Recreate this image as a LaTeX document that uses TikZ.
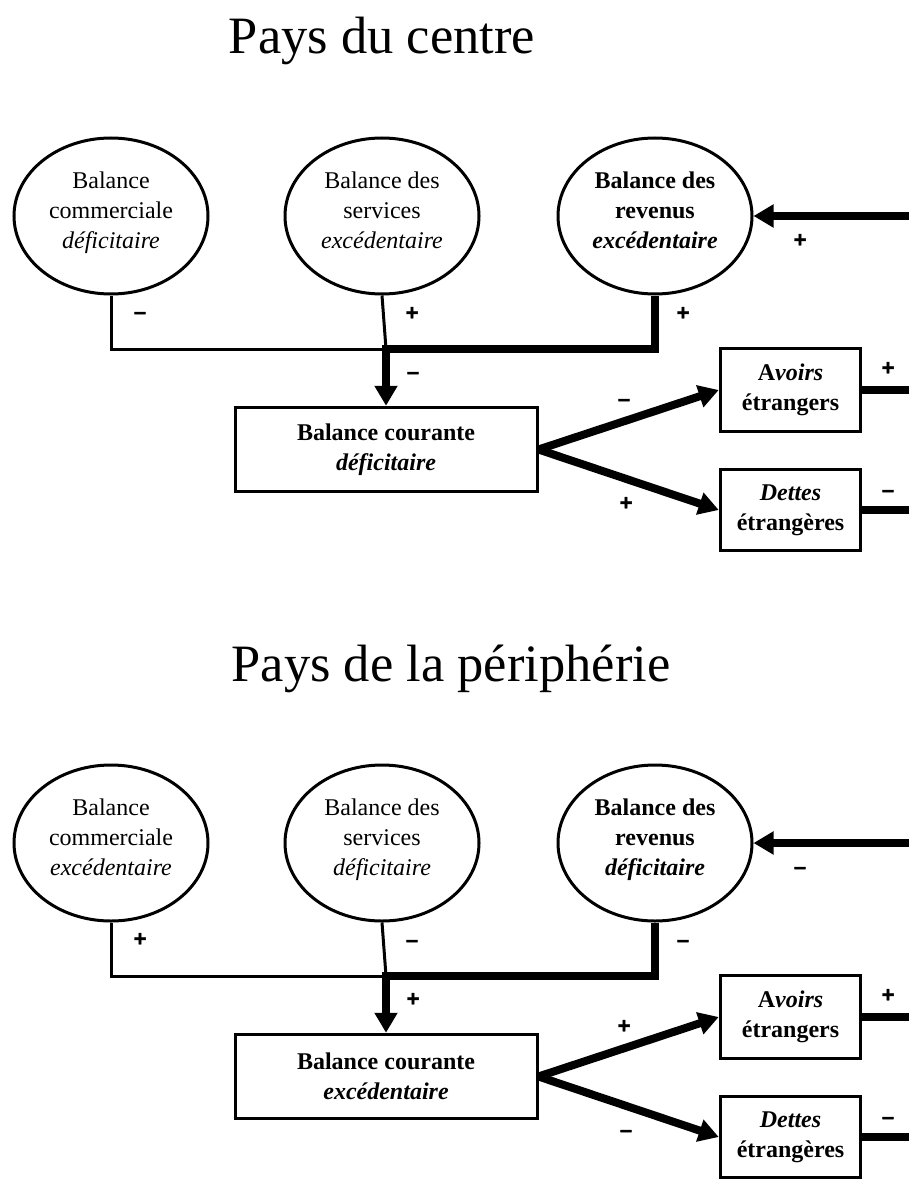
\documentclass[tikz,border=0pt]{standalone}
\usepackage{fontspec}
\setmainfont{Liberation Serif}
\newfontfamily\signesfam{Liberation Sans Bold}[FakeBold=2]
\usepackage{tikz}
\usetikzlibrary{shapes.geometric,arrows.meta}

\newcommand\petit{\fontsize{24}{30}\selectfont}
\newcommand\grand{\fontsize{52.5}{60}\selectfont}
\newcommand\signes{\signesfam\fontsize{22}{22}\selectfont}

\begin{document}
\begin{tikzpicture}[x=1pt,y=-1pt,
    bulle/.style={ellipse,draw,line width=3pt,minimum width=194pt,minimum height=156pt,
        align=center,text depth=12pt,font=\petit},
    boite/.style={rectangle,draw,line width=3pt,align=center,font=\petit\bfseries},
    fin/.style={line width=3pt},
    gros/.style={line width=8pt},
    fleche/.style={gros,-{Triangle[length=20pt,width=22pt]}},
    signe/.style={font=\signes,anchor=base,inner sep=0pt}]
\useasboundingbox (0,0) rectangle (909,1182);

\foreach \dy/\titre/\tx/\qa/\qb/\p/\m [count=\s] in
    {0/Pays du centre/382/déficitaire/excédentaire/+/–,
     627/Pays de la périphérie/451/excédentaire/déficitaire/–/+} {
\begin{scope}[yshift=-\dy pt]
    \node[font=\grand,anchor=base] (titre\s) at (\tx,54) {\titre};

    \node[bulle] (com\s) at (111,216) {Balance\\commerciale\\\textit{\qa}};
    \node[bulle] (ser\s) at (382,216) {Balance des\\services\\\textit{\qb}};
    \node[bulle,font=\petit\bfseries] (rev\s) at (655,216) {Balance des\\revenus\\\textit{\qb}};

    \node[boite,minimum width=302pt,minimum height=84.5pt] (cour\s) at (386,449.5) {Balance courante\\\textit{\qa}};
    \node[boite,minimum width=140.5pt,minimum height=83.5pt] (av\s) at (790.5,390) {A\textit{voirs}\\étrangers};
    \node[boite,minimum width=140.5pt,minimum height=81.5pt] (de\s) at (790.5,510) {\textit{Dettes}\\étrangères};

    \coordinate (jn\s) at (386,349);
    \coordinate (ent\s) at (909,216);
    \coordinate (sa\s) at (909,390);
    \coordinate (sd\s) at (909,510);

    \draw[fin] (com\s.south) |- (jn\s);
    \draw[fin] (ser\s.south) -- (jn\s);
    \draw[fleche] (rev\s.south) |- (jn\s) -- (cour\s.north);
    \draw[fleche] (ent\s) -- (rev\s.east);
    \draw[fleche] (cour\s.east) -- (av\s.west);
    \draw[fleche] (cour\s.east) -- (de\s.west);
    \draw[gros] (av\s.east) -- (sa\s);
    \draw[gros] (de\s.east) -- (sd\s);

    \node[signe] at (800,247) {\p};
    \node[signe] at (140,319) {\m};
    \node[signe] at (412,320) {\p};
    \node[signe] at (683,320) {\p};
    \node[signe] at (413,379) {\m};
    \node[signe] at (624,406) {\m};
    \node[signe] at (626,510) {\p};
    \node[signe] at (888,375) {+};
    \node[signe] at (888,497) {–};
\end{scope}
}
\end{tikzpicture}
\end{document}
